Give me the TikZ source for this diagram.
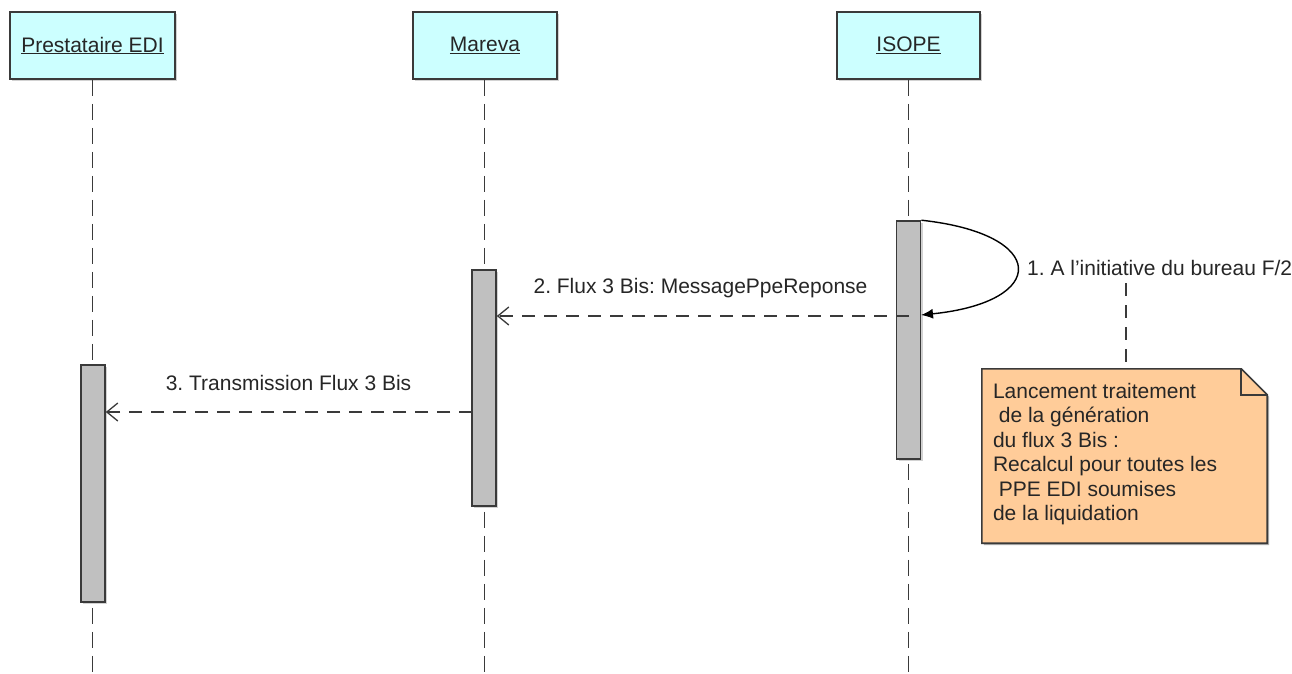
\documentclass[tikz,border=0pt]{standalone}
\usepackage{fontspec}
\setmainfont{Liberation Sans}[Ligatures=ResetAll]
\usetikzlibrary{arrows.meta,shadows}
\definecolor{headfill}{HTML}{CCFFFF}
\definecolor{actfill}{HTML}{C0C0C0}
\definecolor{notefill}{HTML}{FFCC99}
\definecolor{edge}{HTML}{3A3A3A}
\definecolor{txt}{HTML}{262626}
\frenchspacing
\begin{document}
\begin{tikzpicture}[x=1pt,y=-1pt,
  font=\fontsize{21}{24.5}\selectfont, text=txt,
  head/.style={draw=edge, line width=1.6pt, fill=headfill, minimum height=67pt, inner sep=0pt,
    drop shadow={shadow xshift=2pt, shadow yshift=-2pt, opacity=0.35}},
  act/.style={draw=edge, line width=1.6pt, fill=actfill, minimum width=24pt, inner sep=0pt,
    drop shadow={shadow xshift=2pt, shadow yshift=-2pt, opacity=0.35}},
  life/.style={draw=edge, line width=1.6pt, dash pattern=on 16pt off 8pt},
  msg/.style={draw=edge, line width=1.4pt, dash pattern=on 13pt off 9pt,
    -{Straight Barb[length=11pt,width=18pt,line width=1.3pt]}},
  selfmsg/.style={draw=black, line width=1.4pt, -{Latex[length=12pt,width=10pt]}},
  lbl/.style={inner sep=0pt, anchor=base},
  notebox/.style={inner sep=0pt, minimum width=285pt, minimum height=174pt}
]
\useasboundingbox (0,0) rectangle (1292,674);
\fill[white] (0,0) rectangle (1292,674);

% headers
\node[head, minimum width=165pt] (pe) at (92.5,45.5) {\underline{Prestataire EDI}};
\node[head, minimum width=144pt] (mv) at (485,45.5) {\underline{Mareva}};
\node[head, minimum width=143pt] (is) at (908.5,45.5) {\underline{ISOPE}};

% lifeline ends
\coordinate (pe-end) at (92.5,674);
\coordinate (mv-end) at (484.5,674);
\coordinate (is-end) at (908.5,674);

\draw[life] (pe.south) -- (pe-end);
\draw[life] (mv.south -| mv-end) -- (mv-end);
\draw[life] (is.south) -- (is-end);

% activations
\node[act, minimum height=237pt] (a1) at (93,483.5) {};
\node[act, minimum height=236pt] (a2) at (484,388) {};
\node[act, minimum height=238pt] (a3) at (908.5,340) {};

% message 1 (self)
\coordinate (m1e) at (921,315);
\draw[selfmsg] (a3.north east) .. controls (1049,234) and (1049,302) .. (m1e);
\node[lbl, anchor=west] (l1) at (1027,268) {1. A l'initiative du bureau F/2};

% message 2
\coordinate (m2s) at (908.5,316);
\draw[msg] (m2s) -- (a2.east |- m2s);
\node[lbl, anchor=center] (l2) at (700.5,288) {2. Flux 3 Bis: MessagePpeReponse};

% message 3
\coordinate (m3s) at (472,412);
\draw[msg] (m3s) -- (a1.east |- m3s);
\node[lbl, anchor=center] (l3) at (288.5,383) {3. Transmission Flux 3 Bis};

% note
\node[notebox] (note) at (1124.5,456) {};
\fill[black, opacity=0.3] ([xshift=2pt,yshift=-2pt]note.north west) -- ([xshift=-24pt,yshift=-2pt]note.north east)
  -- ([xshift=2pt,yshift=-28pt]note.north east) -- ([xshift=2pt,yshift=-2pt]note.south east)
  -- ([xshift=2pt,yshift=-2pt]note.south west) -- cycle;
\draw[draw=edge, line width=1.6pt, fill=notefill] (note.north west) -- ([xshift=-26pt]note.north east)
  -- ([yshift=-26pt]note.north east) -- (note.south east) -- (note.south west) -- cycle;
\draw[draw=edge, line width=1.6pt] ([xshift=-26pt]note.north east) -- ([xshift=-26pt,yshift=-26pt]note.north east)
  -- ([yshift=-26pt]note.north east);
\node[anchor=north west, inner sep=0pt, align=left] (notetext) at ([xshift=11pt,yshift=-14pt]note.north west)
  {Lancement traitement\\\ de la génération\\du flux 3 Bis :\\Recalcul pour toutes les\\\ PPE EDI soumises\\de la liquidation};

% note anchor
\coordinate (na) at (1126,283);
\draw[life, line width=1.4pt, dash pattern=on 13pt off 9pt] (na) -- (na |- note.north);
\end{tikzpicture}
\end{document}
